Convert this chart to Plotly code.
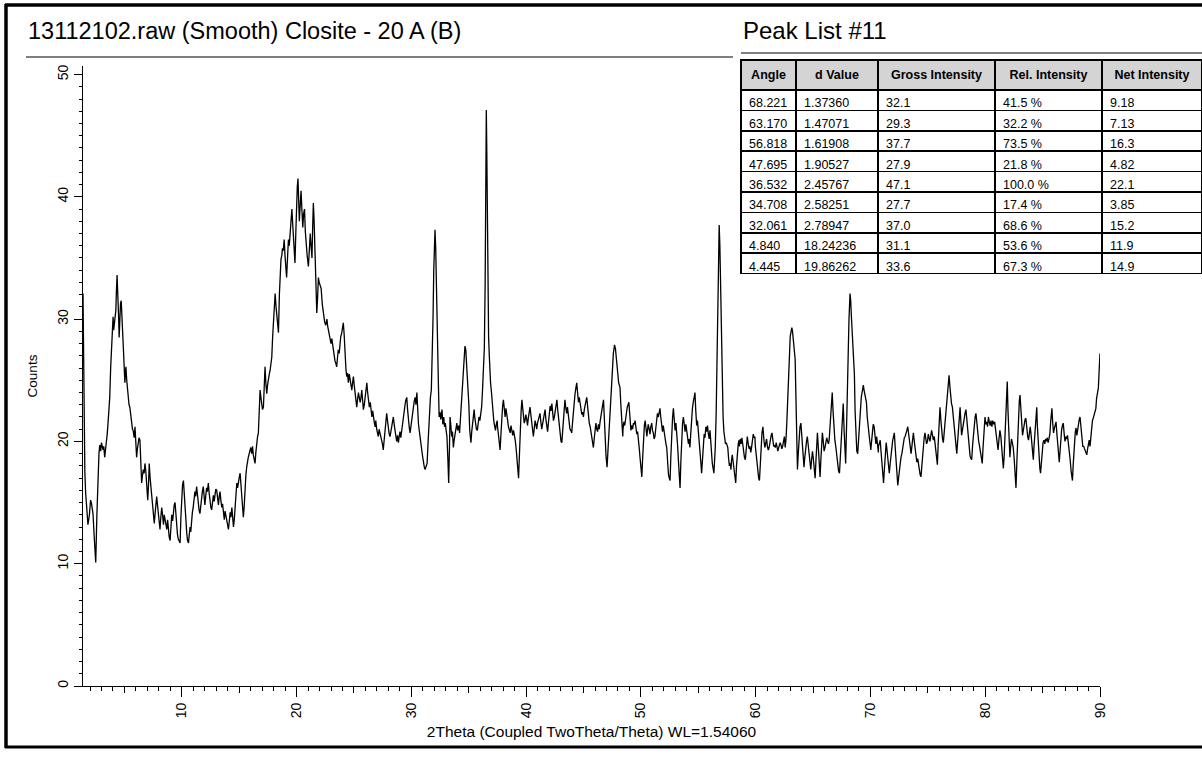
import plotly.graph_objects as go

W, H = 1202, 757
FONT = "Liberation Sans, Arial, sans-serif"


def fx(p):
    return p / W


def fy(p):
    return 1 - p / H


# ---- scan data (2theta, counts) ----
two_theta = [
    1.39, 1.45, 1.55, 1.62, 1.72, 1.82, 1.95, 2.05, 2.12, 2.20,
    2.26, 2.38, 2.50, 2.60, 2.70, 2.78, 2.85, 2.93, 3.00, 3.07,
    3.13, 3.20, 3.28, 3.36, 3.43, 3.50, 3.57, 3.65, 3.72, 3.80,
    3.87, 3.94, 4.01, 4.06, 4.10, 4.18, 4.25, 4.31, 4.36, 4.41,
    4.45, 4.50, 4.54, 4.60, 4.66, 4.72, 4.77, 4.83, 4.89, 4.96,
    5.04, 5.09, 5.13, 5.20, 5.26, 5.32, 5.40, 5.47, 5.55, 5.62,
    5.70, 5.76, 5.85, 5.92, 6.00, 6.06, 6.13, 6.20, 6.27, 6.35,
    6.42, 6.50, 6.57, 6.64, 6.72, 6.79, 6.86, 6.95, 7.03, 7.10,
    7.16, 7.24, 7.32, 7.40, 7.46, 7.53, 7.60, 7.68, 7.75, 7.81,
    7.88, 7.95, 8.02, 8.10, 8.17, 8.25, 8.32, 8.40, 8.47, 8.55,
    8.62, 8.69, 8.76, 8.83, 8.90, 8.98, 9.05, 9.12, 9.20, 9.27,
    9.34, 9.41, 9.48, 9.55, 9.62, 9.70, 9.77, 9.85, 9.92, 9.99,
    10.06, 10.14, 10.21, 10.28, 10.36, 10.43, 10.50, 10.58, 10.65, 10.72,
    10.78, 10.85, 10.92, 10.99, 11.06, 11.14, 11.21, 11.29, 11.36, 11.43,
    11.50, 11.58, 11.65, 11.72, 11.79, 11.87, 11.94, 12.01, 12.09, 12.16,
    12.23, 12.31, 12.38, 12.45, 12.53, 12.60, 12.67, 12.75, 12.82, 12.89,
    12.96, 13.04, 13.11, 13.19, 13.26, 13.33, 13.40, 13.48, 13.55, 13.62,
    13.70, 13.77, 13.84, 13.92, 13.99, 14.06, 14.14, 14.21, 14.28, 14.36,
    14.43, 14.50, 14.57, 14.64, 14.72, 14.79, 14.86, 14.94, 15.01, 15.08,
    15.14, 15.21, 15.28, 15.36, 15.43, 15.50, 15.58, 15.65, 15.72, 15.79,
    15.87, 15.94, 16.01, 16.09, 16.16, 16.23, 16.31, 16.38, 16.45, 16.52,
    16.60, 16.67, 16.74, 16.82, 16.89, 16.96, 17.03, 17.11, 17.18, 17.25,
    17.32, 17.40, 17.47, 17.54, 17.62, 17.69, 17.76, 17.84, 17.91, 17.98,
    18.06, 18.13, 18.21, 18.28, 18.35, 18.42, 18.50, 18.57, 18.64, 18.71,
    18.77, 18.84, 18.92, 18.99, 19.06, 19.13, 19.21, 19.29, 19.36, 19.44,
    19.51, 19.59, 19.66, 19.74, 19.80, 19.86, 19.93, 19.99, 20.06, 20.12,
    20.18, 20.24, 20.32, 20.39, 20.46, 20.54, 20.61, 20.69, 20.76, 20.84,
    20.92, 21.03, 21.11, 21.19, 21.26, 21.34, 21.40, 21.46, 21.52, 21.59,
    21.66, 21.76, 21.83, 21.90, 21.97, 22.04, 22.14, 22.24, 22.34, 22.44,
    22.54, 22.64, 22.71, 22.78, 22.86, 22.93, 23.00, 23.07, 23.14, 23.21,
    23.27, 23.34, 23.42, 23.49, 23.56, 23.63, 23.71, 23.78, 23.85, 23.92,
    24.00, 24.07, 24.14, 24.22, 24.30, 24.37, 24.44, 24.51, 24.59, 24.66,
    24.74, 24.81, 24.88, 24.95, 25.02, 25.10, 25.17, 25.24, 25.32, 25.39,
    25.46, 25.54, 25.61, 25.68, 25.75, 25.82, 25.90, 25.97, 26.04, 26.12,
    26.19, 26.27, 26.34, 26.42, 26.49, 26.56, 26.63, 26.71, 26.78, 26.85,
    26.90, 26.98, 27.05, 27.12, 27.19, 27.27, 27.34, 27.41, 27.48, 27.55,
    27.63, 27.70, 27.78, 27.85, 27.92, 28.00, 28.07, 28.14, 28.21, 28.29,
    28.36, 28.43, 28.50, 28.58, 28.65, 28.72, 28.80, 28.87, 28.94, 29.01,
    29.08, 29.16, 29.23, 29.30, 29.38, 29.45, 29.52, 29.60, 29.67, 29.74,
    29.82, 29.89, 29.96, 30.03, 30.10, 30.18, 30.25, 30.33, 30.40, 30.48,
    30.55, 30.62, 30.70, 30.77, 30.84, 30.92, 30.99, 31.06, 31.13, 31.20,
    31.37, 31.45, 31.52, 31.59, 31.66, 31.74, 31.82, 31.89, 31.95, 32.00,
    32.06, 32.12, 32.18, 32.24, 32.30, 32.36, 32.42, 32.49, 32.56, 32.63,
    32.67, 32.74, 32.82, 32.89, 32.96, 33.03, 33.10, 33.18, 33.25, 33.32,
    33.37, 33.44, 33.51, 33.58, 33.66, 33.73, 33.80, 33.88, 33.96, 34.03,
    34.12, 34.20, 34.27, 34.35, 34.43, 34.51, 34.59, 34.67, 34.74, 34.81,
    34.87, 34.94, 35.01, 35.08, 35.14, 35.19, 35.26, 35.34, 35.41, 35.47,
    35.52, 35.60, 35.67, 35.75, 35.82, 35.89, 35.97, 36.04, 36.12, 36.19,
    36.27, 36.36, 36.43, 36.49, 36.53, 36.57, 36.62, 36.67, 36.73, 36.79,
    36.83, 36.90, 36.98, 37.05, 37.12, 37.19, 37.26, 37.33, 37.40, 37.48,
    37.51, 37.58, 37.66, 37.73, 37.80, 37.87, 37.95, 38.02, 38.09, 38.17,
    38.24, 38.32, 38.39, 38.46, 38.54, 38.61, 38.68, 38.75, 38.83, 38.90,
    38.97, 39.05, 39.12, 39.19, 39.26, 39.34, 39.41, 39.48, 39.56, 39.63,
    39.68, 39.76, 39.83, 39.90, 39.97, 40.05, 40.12, 40.19, 40.27, 40.34,
    40.41, 40.48, 40.56, 40.63, 40.70, 40.78, 40.85, 40.92, 40.99, 41.07,
    41.14, 41.21, 41.28, 41.36, 41.43, 41.50, 41.57, 41.65, 41.72, 41.80,
    41.87, 41.94, 42.02, 42.09, 42.16, 42.24, 42.31, 42.38, 42.46, 42.53,
    42.61, 42.68, 42.75, 42.82, 42.90, 42.97, 43.04, 43.11, 43.18, 43.26,
    43.31, 43.38, 43.45, 43.53, 43.60, 43.67, 43.75, 43.82, 43.90, 43.97,
    44.04, 44.12, 44.19, 44.26, 44.34, 44.41, 44.48, 44.56, 44.63, 44.70,
    44.78, 44.85, 44.92, 44.99, 45.07, 45.14, 45.21, 45.28, 45.36, 45.43,
    45.50, 45.58, 45.65, 45.72, 45.79, 45.86, 45.94, 46.01, 46.08, 46.15,
    46.23, 46.30, 46.37, 46.44, 46.52, 46.59, 46.66, 46.74, 46.81, 46.88,
    46.96, 47.05, 47.14, 47.23, 47.32, 47.41, 47.50, 47.60, 47.70, 47.78,
    47.86, 47.93, 48.00, 48.06, 48.12, 48.18, 48.24, 48.30, 48.36, 48.42,
    48.44, 48.51, 48.59, 48.66, 48.73, 48.81, 48.88, 48.95, 49.02, 49.10,
    49.13, 49.20, 49.28, 49.35, 49.42, 49.49, 49.57, 49.64, 49.71, 49.79,
    49.86, 49.93, 50.00, 50.08, 50.15, 50.22, 50.30, 50.37, 50.44, 50.52,
    50.57, 50.64, 50.72, 50.79, 50.86, 50.94, 51.01, 51.08, 51.15, 51.22,
    51.30, 51.37, 51.44, 51.52, 51.59, 51.66, 51.73, 51.81, 51.88, 51.95,
    52.03, 52.10, 52.18, 52.25, 52.32, 52.40, 52.47, 52.54, 52.61, 52.69,
    52.76, 52.83, 52.90, 52.98, 53.05, 53.12, 53.20, 53.27, 53.34, 53.41,
    53.48, 53.56, 53.63, 53.70, 53.77, 53.85, 53.92, 53.99, 54.07, 54.14,
    54.19, 54.27, 54.34, 54.41, 54.49, 54.56, 54.64, 54.71, 54.78, 54.86,
    54.93, 55.00, 55.07, 55.15, 55.22, 55.29, 55.36, 55.44, 55.51, 55.58,
    55.66, 55.73, 55.80, 55.88, 55.95, 56.02, 56.10, 56.22, 56.36, 56.48,
    56.56, 56.63, 56.70, 56.76, 56.82, 56.88, 56.95, 57.02, 57.09, 57.16,
    57.23, 57.30, 57.37, 57.44, 57.51, 57.57, 57.64, 57.71, 57.78, 57.85,
    57.89, 57.96, 58.04, 58.11, 58.18, 58.26, 58.33, 58.40, 58.48, 58.55,
    58.58, 58.66, 58.73, 58.80, 58.87, 58.95, 59.02, 59.10, 59.17, 59.24,
    59.27, 59.35, 59.42, 59.50, 59.57, 59.64, 59.72, 59.79, 59.86, 59.93,
    59.97, 60.04, 60.11, 60.19, 60.26, 60.33, 60.40, 60.48, 60.55, 60.63,
    60.66, 60.73, 60.80, 60.88, 60.95, 61.02, 61.10, 61.17, 61.24, 61.31,
    61.35, 61.42, 61.49, 61.57, 61.64, 61.71, 61.79, 61.86, 61.93, 62.01,
    62.06, 62.13, 62.21, 62.28, 62.35, 62.43, 62.50, 62.57, 62.65, 62.72,
    62.79, 62.86, 62.94, 63.01, 63.09, 63.15, 63.21, 63.28, 63.35, 63.44,
    63.51, 63.58, 63.64, 63.71, 63.79, 63.86, 63.94, 64.01, 64.08, 64.16,
    64.21, 64.28, 64.35, 64.43, 64.50, 64.57, 64.65, 64.72, 64.80, 64.87,
    64.95, 65.02, 65.10, 65.18, 65.25, 65.32, 65.38, 65.44, 65.52, 65.61,
    65.68, 65.75, 65.81, 65.89, 65.96, 66.04, 66.12, 66.19, 66.27, 66.34,
    66.40, 66.47, 66.54, 66.61, 66.67, 66.74, 66.82, 66.90, 66.99, 67.06,
    67.14, 67.22, 67.30, 67.38, 67.46, 67.55, 67.63, 67.70, 67.77, 67.84,
    67.95, 68.04, 68.13, 68.22, 68.28, 68.34, 68.40, 68.47, 68.54, 68.60,
    68.66, 68.73, 68.81, 68.89, 68.97, 69.05, 69.13, 69.20, 69.27, 69.35,
    69.38, 69.44, 69.52, 69.59, 69.65, 69.72, 69.78, 69.85, 69.92, 70.00,
    70.03, 70.10, 70.17, 70.24, 70.32, 70.39, 70.47, 70.54, 70.61, 70.69,
    70.70, 70.78, 70.85, 70.92, 71.00, 71.07, 71.14, 71.22, 71.30, 71.37,
    71.42, 71.49, 71.57, 71.64, 71.72, 71.79, 71.86, 71.94, 72.01, 72.08,
    72.15, 72.23, 72.30, 72.38, 72.45, 72.52, 72.59, 72.66, 72.74, 72.81,
    72.88, 72.95, 73.02, 73.09, 73.17, 73.25, 73.32, 73.39, 73.47, 73.54,
    73.61, 73.67, 73.74, 73.82, 73.89, 73.97, 74.04, 74.12, 74.19, 74.27,
    74.32, 74.40, 74.47, 74.54, 74.61, 74.68, 74.75, 74.82, 74.89, 74.97,
    75.04, 75.11, 75.19, 75.26, 75.33, 75.41, 75.48, 75.56, 75.63, 75.71,
    75.77, 75.83, 75.90, 75.97, 76.06, 76.13, 76.21, 76.28, 76.35, 76.43,
    76.51, 76.58, 76.65, 76.72, 76.79, 76.85, 76.92, 76.99, 77.06, 77.14,
    77.21, 77.28, 77.36, 77.44, 77.52, 77.59, 77.66, 77.74, 77.81, 77.88,
    77.94, 78.01, 78.09, 78.17, 78.24, 78.32, 78.39, 78.47, 78.54, 78.61,
    78.68, 78.75, 78.82, 78.90, 78.98, 79.05, 79.12, 79.19, 79.27, 79.35,
    79.43, 79.51, 79.58, 79.66, 79.74, 79.81, 79.88, 79.98, 80.05, 80.13,
    80.20, 80.28, 80.35, 80.43, 80.50, 80.58, 80.66, 80.74, 80.82, 80.90,
    80.96, 81.04, 81.12, 81.20, 81.28, 81.36, 81.44, 81.52, 81.58, 81.65,
    81.72, 81.79, 81.86, 81.92, 81.98, 82.05, 82.11, 82.15, 82.22, 82.29,
    82.36, 82.44, 82.52, 82.60, 82.68, 82.76, 82.84, 82.92, 82.97, 83.03,
    83.10, 83.18, 83.25, 83.32, 83.39, 83.47, 83.54, 83.62, 83.70, 83.77,
    83.84, 83.92, 83.99, 84.07, 84.14, 84.19, 84.25, 84.32, 84.40, 84.49,
    84.54, 84.62, 84.70, 84.76, 84.82, 84.90, 84.97, 85.04, 85.11, 85.19,
    85.26, 85.33, 85.41, 85.48, 85.55, 85.63, 85.70, 85.77, 85.81, 85.88,
    85.95, 86.03, 86.10, 86.17, 86.23, 86.30, 86.38, 86.45, 86.52, 86.59,
    86.66, 86.73, 86.80, 86.88, 86.95, 87.03, 87.10, 87.17, 87.25, 87.32,
    87.40, 87.48, 87.55, 87.60, 87.66, 87.73, 87.80, 87.85, 87.91, 87.98,
    88.05, 88.12, 88.19, 88.26, 88.34, 88.42, 88.50, 88.58, 88.65, 88.72,
    88.78, 88.85, 88.92, 88.99, 89.06, 89.13, 89.20, 89.27, 89.34, 89.41,
    89.48, 89.55, 89.64, 89.70, 89.76, 89.82, 89.86, 89.91, 89.96, 90.00,
]

counts = [
    32.1, 24.0, 17.5, 15.8, 14.5, 13.2, 14.0, 15.2, 15.0, 14.3,
    14.1, 12.0, 10.1, 14.0, 17.9, 19.0, 19.7, 19.2, 19.9, 19.5,
    19.3, 19.6, 18.7, 19.4, 19.9, 20.6, 21.5, 22.5, 23.6, 26.0,
    28.0, 29.6, 30.2, 29.1, 29.6, 30.0, 30.7, 32.5, 33.6, 32.3,
    31.6, 30.0, 28.5, 30.5, 31.3, 31.5, 30.7, 29.5, 28.0, 26.5,
    24.8, 25.7, 26.1, 25.0, 24.2, 23.6, 23.0, 22.8, 22.0, 21.5,
    21.0, 20.9, 20.3, 21.2, 19.5, 18.7, 19.4, 19.9, 20.3, 20.1,
    18.0, 16.6, 17.2, 17.7, 17.4, 18.2, 17.6, 16.0, 15.2, 16.5,
    18.2, 17.0, 16.2, 15.3, 14.6, 13.8, 13.3, 14.2, 15.0, 15.5,
    14.8, 14.2, 13.4, 12.8, 13.8, 14.6, 14.0, 13.2, 14.0, 13.6,
    13.0, 12.8, 13.6, 12.6, 12.2, 11.9, 13.0, 14.0, 13.5, 14.6,
    14.8, 15.0, 14.0, 13.0, 12.4, 12.0, 11.8, 11.7, 13.8, 15.8,
    16.4, 16.8, 15.6, 14.2, 13.2, 12.5, 11.9, 11.7, 12.4, 13.0,
    12.6, 13.6, 14.2, 14.6, 15.4, 15.9, 15.5, 16.3, 15.7, 14.9,
    14.4, 14.1, 14.8, 15.6, 15.9, 16.3, 15.4, 14.8, 15.6, 16.2,
    15.9, 16.6, 15.8, 15.0, 14.6, 14.4, 15.0, 15.6, 15.1, 15.7,
    16.1, 16.0, 15.3, 14.8, 15.5, 15.9, 15.2, 14.6, 14.9, 14.1,
    13.6, 14.3, 13.9, 13.4, 13.2, 12.8, 13.5, 14.2, 13.8, 14.6,
    13.8, 13.0, 13.6, 14.8, 15.9, 16.6, 16.2, 17.0, 17.1, 17.4,
    16.5, 15.2, 14.3, 13.8, 14.6, 16.2, 17.2, 17.9, 18.4, 18.7,
    19.0, 19.3, 19.5, 19.0, 19.6, 18.9, 18.5, 18.2, 19.1, 19.9,
    20.4, 20.7, 22.2, 24.2, 23.6, 23.0, 22.6, 22.8, 24.5, 26.1,
    24.8, 23.9, 24.6, 25.2, 25.5, 25.8, 26.4, 26.9, 28.5, 29.9,
    31.2, 32.1, 31.0, 30.2, 29.5, 28.9, 32.0, 34.6, 34.9, 35.2,
    35.8, 35.6, 36.5, 35.2, 34.0, 33.4, 35.0, 36.5, 36.0, 37.0,
    38.2, 39.0, 37.8, 36.5, 35.5, 34.6, 37.0, 39.5, 40.8, 41.5,
    40.0, 38.0, 39.4, 40.5, 39.0, 37.5, 38.6, 39.0, 37.2, 36.0,
    35.2, 34.3, 35.8, 37.0, 36.0, 35.0, 37.5, 39.5, 38.2, 35.5,
    33.0, 30.5, 31.8, 33.4, 33.0, 32.8, 32.5, 31.2, 30.2, 29.8,
    29.5, 30.0, 29.4, 29.1, 28.7, 28.5, 28.0, 28.4, 27.8, 27.7,
    27.0, 26.6, 26.4, 26.1, 26.8, 27.5, 27.2, 28.0, 28.6, 28.8,
    29.2, 29.7, 28.8, 27.0, 25.9, 25.3, 25.6, 24.8, 25.5, 25.1,
    24.6, 24.2, 24.8, 25.3, 24.6, 23.8, 23.4, 22.8, 23.5, 24.0,
    23.6, 23.2, 23.6, 24.2, 23.4, 22.6, 23.0, 23.8, 24.4, 24.8,
    24.0, 23.3, 22.8, 23.2, 22.4, 22.0, 22.5, 21.8, 21.5, 21.2,
    21.7, 21.0, 20.6, 20.4, 21.0, 20.7, 20.3, 20.1, 19.8, 19.3,
    20.2, 21.0, 21.6, 22.3, 21.7, 21.0, 20.6, 20.4, 20.8, 21.3,
    21.6, 22.0, 21.4, 20.8, 20.3, 20.0, 20.5, 19.9, 20.4, 20.8,
    20.3, 21.0, 21.6, 22.0, 22.5, 23.0, 23.4, 23.6, 22.6, 21.7,
    21.1, 20.7, 21.3, 21.6, 22.2, 22.8, 23.3, 23.6, 23.0, 24.0,
    22.5, 21.4, 20.8, 20.4, 19.8, 19.2, 18.7, 18.2, 17.9, 17.7,
    18.2, 19.8, 21.3, 22.6, 23.6, 24.2, 27.0, 30.2, 34.0, 36.5,
    37.3, 35.8, 32.0, 29.5, 27.5, 24.5, 22.0, 22.4, 21.8, 22.3,
    22.6, 21.4, 22.0, 21.2, 21.5, 20.9, 20.4, 18.6, 16.6, 19.5,
    22.0, 21.3, 20.4, 20.8, 19.5, 20.1, 20.6, 21.0, 21.5, 20.9,
    21.3, 20.7, 21.8, 23.5, 25.0, 26.2, 27.2, 27.8, 27.5, 26.3,
    25.5, 25.0, 23.0, 21.0, 20.2, 19.9, 20.8, 21.7, 22.2, 22.6,
    22.0, 21.4, 21.0, 20.9, 21.6, 22.0, 21.7, 22.3, 22.8, 24.0,
    25.6, 27.7, 33.0, 40.0, 47.1, 44.0, 38.0, 32.0, 28.5, 27.0,
    25.6, 24.8, 24.0, 23.4, 22.4, 21.6, 21.2, 20.9, 21.4, 21.7,
    21.2, 20.4, 19.8, 19.3, 20.5, 22.0, 22.9, 23.4, 22.6, 22.0,
    22.7, 22.3, 21.7, 21.2, 20.8, 20.7, 21.3, 21.0, 20.5, 20.9,
    20.6, 20.1, 19.5, 18.6, 17.6, 17.0, 18.8, 20.9, 22.4, 23.4,
    22.8, 22.0, 21.5, 21.7, 22.2, 21.8, 21.3, 21.9, 22.5, 22.8,
    22.2, 21.5, 20.9, 20.4, 21.0, 21.7, 21.4, 21.0, 21.5, 21.9,
    22.1, 22.3, 21.6, 21.0, 21.4, 21.8, 22.2, 22.6, 21.8, 21.1,
    20.8, 21.5, 22.3, 22.9, 22.5, 23.1, 22.4, 21.7, 22.0, 22.5,
    23.0, 23.4, 22.6, 21.8, 21.0, 20.4, 20.0, 19.9, 20.8, 22.2,
    23.0, 23.4, 22.8, 22.3, 22.8, 22.1, 21.5, 21.0, 20.9, 20.7,
    21.5, 22.6, 23.2, 23.9, 24.4, 24.8, 24.0, 23.2, 23.6, 23.0,
    22.6, 22.2, 22.4, 22.0, 22.6, 23.1, 23.3, 23.6, 22.8, 22.0,
    21.5, 21.2, 20.8, 20.4, 19.8, 19.5, 20.3, 21.2, 21.5, 21.0,
    20.8, 21.4, 21.0, 21.6, 22.2, 22.7, 23.1, 23.4, 22.0, 20.2,
    18.8, 17.9, 19.5, 21.2, 22.8, 24.5, 26.0, 27.2, 27.9, 27.6,
    26.8, 25.8, 25.3, 24.8, 24.6, 24.4, 23.2, 21.8, 20.8, 20.4,
    21.0, 21.6, 21.3, 21.9, 22.4, 22.8, 23.0, 23.2, 22.3, 21.4,
    20.9, 21.3, 21.0, 21.5, 21.4, 21.7, 21.2, 20.6, 20.8, 20.2,
    19.4, 18.6, 17.8, 17.1, 18.6, 20.3, 21.3, 21.7, 21.0, 20.4,
    20.9, 21.4, 21.0, 20.6, 21.2, 21.5, 20.9, 20.7, 20.2, 20.4,
    21.1, 21.8, 22.3, 22.0, 22.4, 22.7, 22.0, 21.2, 20.8, 21.3,
    20.6, 20.0, 19.8, 19.5, 18.2, 17.3, 17.0, 16.8, 18.8, 20.9,
    22.0, 22.7, 21.8, 20.9, 21.5, 20.8, 19.6, 18.4, 17.1, 16.2,
    18.3, 20.4, 21.5, 22.0, 21.3, 20.8, 21.4, 20.7, 20.1, 19.8,
    20.2, 19.5, 20.6, 21.8, 22.7, 23.2, 23.7, 24.0, 22.5, 21.3,
    21.7, 21.0, 20.1, 19.2, 18.3, 17.4, 18.6, 19.9, 20.6, 20.3,
    21.2, 20.8, 21.3, 20.6, 20.2, 20.9, 19.5, 18.2, 17.4, 19.5,
    22.4, 26.5, 31.5, 35.5, 37.7, 36.0, 32.5, 28.0, 24.5, 22.0,
    20.8, 20.2, 19.8, 19.9, 19.5, 19.5, 18.6, 18.0, 18.2, 17.7,
    18.4, 18.9, 18.3, 17.7, 17.2, 16.6, 18.0, 19.3, 19.8, 20.1,
    19.6, 20.2, 19.8, 20.3, 19.6, 19.0, 18.7, 18.5, 19.3, 19.7,
    20.4, 19.8, 19.4, 19.6, 19.1, 19.5, 20.1, 20.6, 20.3, 20.4,
    19.6, 18.9, 18.0, 17.4, 17.0, 16.8, 18.2, 19.8, 20.7, 21.2,
    20.6, 20.0, 19.5, 19.8, 20.2, 19.6, 19.3, 19.5, 20.0, 20.4,
    20.5, 20.7, 20.2, 19.6, 19.7, 19.5, 19.9, 19.6, 19.2, 19.5,
    19.8, 19.9, 19.7, 19.4, 19.6, 20.0, 20.4, 19.5, 20.3, 21.7,
    23.5, 26.0, 27.5, 28.6, 29.0, 29.3, 29.0, 28.2, 27.3, 26.7,
    23.5, 20.0, 17.7, 19.0, 20.3, 21.2, 21.5, 20.6, 19.3, 18.4,
    17.9, 18.7, 19.5, 20.0, 20.4, 19.8, 19.0, 18.3, 17.7, 18.5,
    19.2, 18.6, 17.8, 17.0, 18.4, 19.7, 20.7, 19.8, 18.4, 17.1,
    18.5, 19.8, 20.7, 20.0, 19.2, 19.5, 19.9, 20.3, 20.0, 19.8,
    20.1, 21.0, 22.3, 23.4, 24.0, 22.5, 21.0, 20.1, 19.5, 18.8,
    18.0, 17.6, 17.4, 18.6, 20.2, 21.8, 23.1, 21.0, 19.0, 18.2,
    22.5, 27.2, 30.0, 32.1, 31.5, 30.2, 29.0, 28.0, 27.2, 25.5,
    22.5, 20.4, 19.2, 19.0, 20.4, 21.8, 22.9, 23.6, 24.0, 24.3,
    24.6, 24.2, 23.8, 23.4, 23.2, 22.0, 21.2, 20.9, 20.2, 19.6,
    19.3, 20.0, 20.8, 21.4, 21.2, 20.5, 19.8, 20.4, 19.6, 19.1,
    19.6, 20.0, 20.1, 19.2, 18.1, 17.2, 16.6, 17.8, 19.2, 19.9,
    19.5, 18.6, 17.9, 17.4, 18.2, 19.0, 19.6, 20.1, 20.4, 20.7,
    19.6, 18.2, 17.1, 16.4, 17.0, 17.8, 18.4, 18.7, 19.0, 19.5,
    19.9, 20.3, 20.4, 20.8, 20.9, 21.2, 20.6, 20.0, 19.5, 19.0,
    19.6, 20.2, 20.7, 20.0, 19.3, 18.7, 18.3, 18.6, 18.0, 17.6,
    17.3, 17.1, 18.0, 19.0, 19.8, 20.3, 20.7, 20.2, 19.8, 20.0,
    20.6, 20.3, 20.0, 20.5, 20.9, 20.5, 20.1, 20.4, 19.9, 19.2,
    18.5, 18.1, 19.8, 21.5, 22.8, 21.8, 20.8, 20.2, 19.9, 20.9,
    21.6, 22.0, 23.0, 24.2, 25.0, 25.4, 24.5, 23.6, 23.1, 22.8,
    22.1, 21.1, 20.2, 19.4, 19.0, 19.9, 21.0, 22.1, 22.8, 21.6,
    20.5, 20.9, 21.5, 22.0, 22.3, 22.6, 21.8, 20.6, 19.8, 19.2,
    18.8, 18.6, 18.5, 19.7, 20.8, 21.6, 22.0, 22.3, 21.5, 20.5,
    20.0, 19.6, 19.2, 18.6, 18.2, 19.5, 21.0, 22.0, 21.4, 21.6,
    21.2, 22.0, 21.6, 21.3, 21.7, 21.2, 21.7, 21.4, 21.6, 21.0,
    20.3, 19.8, 19.3, 20.2, 20.9, 20.4, 19.6, 18.7, 17.8, 18.8,
    20.9, 22.8, 24.0, 24.9, 22.6, 20.4, 19.1, 18.7, 19.6, 20.2,
    19.9, 19.5, 18.6, 17.3, 16.2, 18.4, 20.6, 22.3, 23.3, 23.8,
    22.7, 21.4, 20.5, 20.9, 21.5, 21.8, 21.9, 21.0, 20.4, 20.1,
    20.7, 21.2, 20.6, 19.8, 19.0, 18.5, 19.6, 20.8, 21.9, 22.8,
    21.3, 19.8, 18.5, 17.8, 17.4, 18.6, 19.5, 19.9, 20.1, 19.8,
    20.2, 20.0, 20.3, 19.9, 20.2, 20.6, 21.6, 22.3, 22.7, 21.5,
    20.7, 21.1, 21.4, 21.6, 20.8, 20.0, 19.1, 18.3, 19.2, 20.4,
    21.0, 21.3, 21.5, 20.6, 20.0, 20.4, 20.2, 20.5, 19.9, 19.2,
    18.5, 17.6, 17.0, 16.8, 18.0, 19.3, 20.2, 20.8, 21.1, 20.5,
    20.9, 21.5, 21.8, 22.0, 21.4, 20.4, 19.6, 19.6, 19.4, 19.2,
    19.0, 18.9, 19.4, 19.8, 20.1, 19.6, 20.4, 21.0, 21.7, 21.9,
    22.2, 22.4, 22.7, 23.5, 23.9, 24.2, 24.4, 25.5, 26.4, 27.2,
]

assert len(two_theta) == len(counts)

# medium (unlabelled) ticks on the 2theta axis
mid_ticks = [5, 15, 25, 35, 45, 55, 65, 75, 85]

# ---- peak list table ----
table_headers = ["Angle", "d Value", "Gross Intensity", "Rel. Intensity", "Net Intensity"]
peak_angle = ["68.221", "63.170", "56.818", "47.695", "36.532", "34.708", "32.061", "4.840", "4.445"]
peak_d = ["1.37360", "1.47071", "1.61908", "1.90527", "2.45767", "2.58251", "2.78947", "18.24236", "19.86262"]
peak_gross = ["32.1", "29.3", "37.7", "27.9", "47.1", "27.7", "37.0", "31.1", "33.6"]
peak_rel = ["41.5 %", "32.2 %", "73.5 %", "21.8 %", "100.0 %", "17.4 %", "68.6 %", "53.6 %", "67.3 %"]
peak_net = ["9.18", "7.13", "16.3", "4.82", "22.1", "3.85", "15.2", "11.9", "14.9"]

chart_title = "13112102.raw (Smooth) Closite - 20 A (B)"
table_title = "Peak List #11"
x_title = "2Theta (Coupled TwoTheta/Theta) WL=1.54060"
y_title = "Counts"

X_RANGE = [1.39, 90.0]
X_DOMAIN = [fx(83), fx(1100)]

fig = go.Figure()
fig.add_trace(go.Scatter(
    x=two_theta, y=counts, mode="lines",
    line=dict(color="black", width=1.3),
    hoverinfo="skip", showlegend=False,
))
# empty trace that only carries the overlay axis used for the 5-degree ticks
fig.add_trace(go.Scatter(x=[], y=[], xaxis="x2", yaxis="y", mode="lines",
                         hoverinfo="skip", showlegend=False))

fig.add_trace(go.Table(
    domain=dict(x=[fx(741), 1.0], y=[fy(275), fy(60)]),
    columnwidth=[55, 82, 117, 107, 100],
    header=dict(
        values=[f"<b>{h}</b>" for h in table_headers],
        fill_color="#d4d4d4",
        line=dict(color="black", width=1.5),
        align="center",
        font=dict(family=FONT, size=12.5, color="black"),
        height=27,
    ),
    cells=dict(
        values=[peak_angle, peak_d, peak_gross, peak_rel, peak_net],
        fill_color="white",
        line=dict(color="black", width=1.5),
        align="left",
        font=dict(family=FONT, size=12.5, color="black"),
        height=20.4,
    ),
))

axis_common = dict(
    showline=True, linecolor="black", linewidth=1, mirror=False,
    showgrid=False, zeroline=False, ticks="outside", tickcolor="black",
    tickwidth=1, tickangle=-90, tickfont=dict(family=FONT, size=14, color="black"),
    automargin=False,
)

fig.update_layout(
    width=W, height=H,
    margin=dict(l=0, r=0, t=0, b=0, pad=0),
    paper_bgcolor="white", plot_bgcolor="white",
    showlegend=False,
    font=dict(family=FONT, color="black"),
    xaxis=dict(
        domain=X_DOMAIN, range=X_RANGE,
        tickmode="linear", tick0=0, dtick=10, ticklen=10,
        minor=dict(ticks="outside", tick0=0, dtick=1, ticklen=4, tickcolor="black", tickwidth=1, showgrid=False),
        title=dict(text=x_title, font=dict(family=FONT, size=15.5, color="black"), standoff=8),
        **axis_common,
    ),
    xaxis2=dict(
        domain=X_DOMAIN, range=X_RANGE, overlaying="x", anchor="y", side="bottom",
        tickmode="array", tickvals=mid_ticks, showticklabels=False,
        ticks="outside", ticklen=6, tickwidth=1, tickcolor="black",
        showline=False, showgrid=False, zeroline=False, automargin=False,
    ),
    yaxis=dict(
        domain=[fy(686), fy(66)], range=[0, 50.7],
        tickmode="linear", tick0=0, dtick=10, ticklen=8,
        minor=dict(ticks="outside", tick0=0, dtick=1, ticklen=3, tickcolor="black", tickwidth=1, showgrid=False),
        title=dict(text=y_title, font=dict(family=FONT, size=13.5, color="black"), standoff=14),
        **axis_common,
    ),
    annotations=[
        dict(text=chart_title, x=fx(26), y=fy(31), xref="paper", yref="paper",
             xanchor="left", yanchor="middle", showarrow=False,
             font=dict(family=FONT, size=23.5, color="black")),
        dict(text=table_title, x=fx(741), y=fy(30), xref="paper", yref="paper",
             xanchor="left", yanchor="middle", showarrow=False,
             font=dict(family=FONT, size=24, color="black")),
    ],
    shapes=[
        dict(type="line", xref="paper", yref="paper", x0=fx(6), x1=fx(6), y0=fy(4), y1=fy(748),
             line=dict(color="black", width=3.5)),
        dict(type="line", xref="paper", yref="paper", x0=fx(5), x1=1.0, y0=fy(5), y1=fy(5),
             line=dict(color="black", width=3.5)),
        dict(type="line", xref="paper", yref="paper", x0=fx(5), x1=1.0, y0=fy(747), y1=fy(747),
             line=dict(color="black", width=3)),
        dict(type="line", xref="paper", yref="paper", x0=fx(26), x1=fx(733), y0=fy(57), y1=fy(57),
             line=dict(color="black", width=1.2)),
        dict(type="line", xref="paper", yref="paper", x0=fx(741), x1=1.0, y0=fy(53), y1=fy(53),
             line=dict(color="black", width=1.2)),
    ],
)

fig.write_html("out.html", config={"displayModeBar": False})
